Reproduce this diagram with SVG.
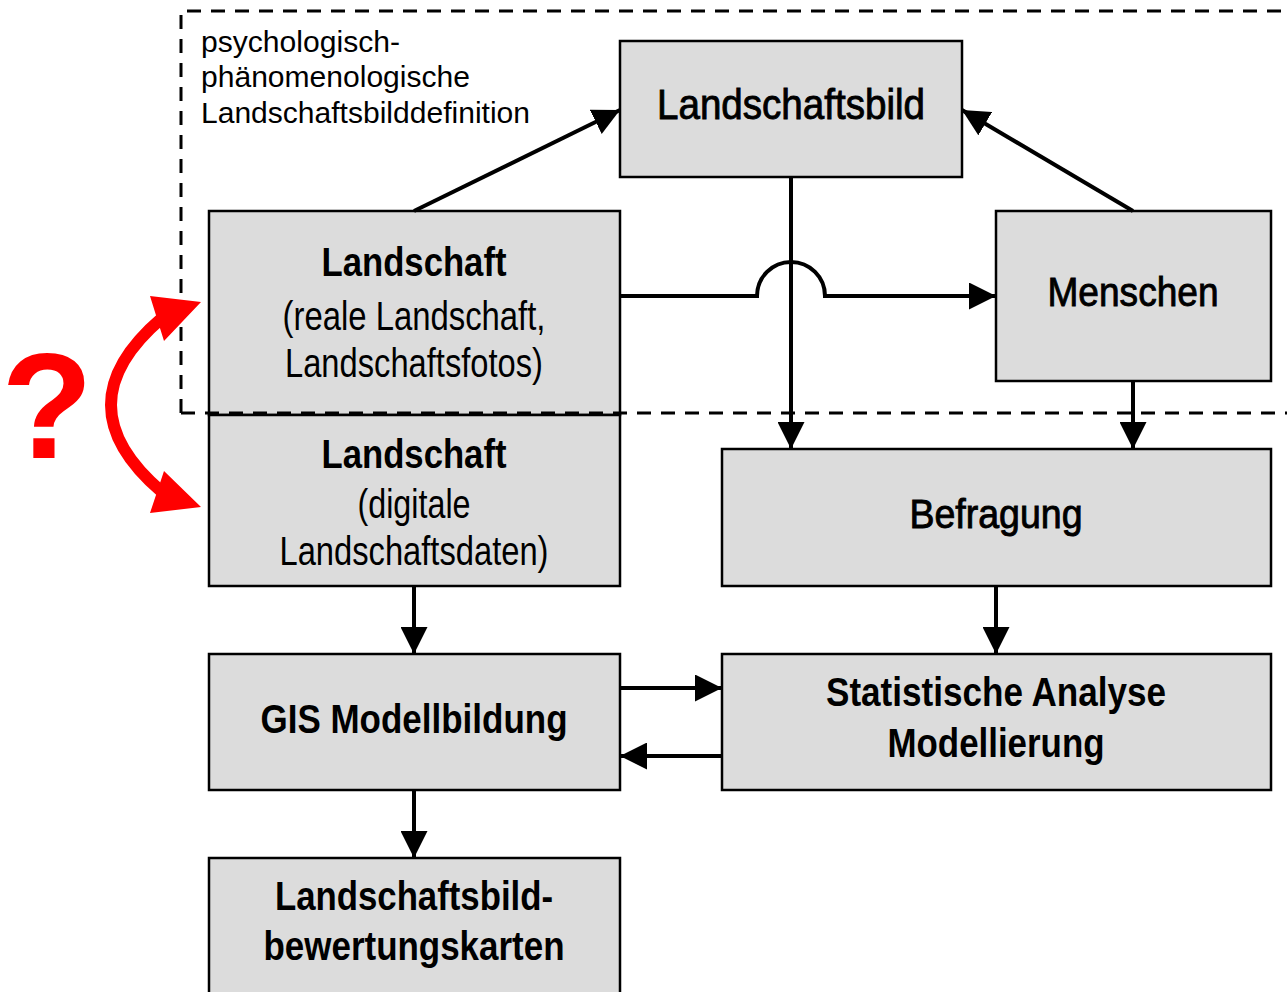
<svg xmlns="http://www.w3.org/2000/svg" width="1287" height="992" viewBox="0 0 1287 992">
<defs>
<marker id="ah" viewBox="0 0 10 10" refX="10" refY="5" markerWidth="27" markerHeight="27" markerUnits="userSpaceOnUse" orient="auto">
<path d="M0,0 L10,5 L0,10 Z" fill="#000"/>
</marker>
</defs>
<style>
.box{fill:#dcdcdc;stroke:#000;stroke-width:2.5}
.t{font-family:"Liberation Sans",Arial,sans-serif;text-anchor:middle;fill:#000}
.b{font-weight:bold;font-size:40px}
.m{font-weight:normal;stroke:#000;stroke-width:0.9}
.n{font-weight:normal;font-size:41px}
.c{fill:none;stroke:#000;stroke-width:4}
.lbl{font-family:"Liberation Sans",Arial,sans-serif;font-size:30px;fill:#000}
</style>
<rect width="1287" height="992" fill="#fff"/>
<g id="Landschaftsbild"><rect class="box" x="620" y="41" width="342" height="136"/><text class="t m" font-size="42" x="791" y="119" textLength="268" lengthAdjust="spacingAndGlyphs">Landschaftsbild</text></g>
<g id="Landschaft_real"><rect class="box" x="209" y="211" width="411" height="204"/><text class="t b" x="414" y="276" textLength="185" lengthAdjust="spacingAndGlyphs">Landschaft</text><text class="t n" x="414" y="330" textLength="263" lengthAdjust="spacingAndGlyphs">(reale Landschaft,</text><text class="t n" x="414" y="377" textLength="258" lengthAdjust="spacingAndGlyphs">Landschaftsfotos)</text></g>
<g id="Landschaft_digital"><rect class="box" x="209" y="415" width="411" height="171"/><text class="t b" x="414" y="468" textLength="185" lengthAdjust="spacingAndGlyphs">Landschaft</text><text class="t n" x="414" y="518" textLength="113" lengthAdjust="spacingAndGlyphs">(digitale</text><text class="t n" x="414" y="565" textLength="269" lengthAdjust="spacingAndGlyphs">Landschaftsdaten)</text></g>
<g id="Menschen"><rect class="box" x="996" y="211" width="275" height="170"/><text class="t m" font-size="41" x="1133" y="306" textLength="171" lengthAdjust="spacingAndGlyphs">Menschen</text></g>
<g id="Befragung"><rect class="box" x="722" y="449" width="549" height="137"/><text class="t m" font-size="40" x="996" y="528" textLength="173" lengthAdjust="spacingAndGlyphs">Befragung</text></g>
<g id="GIS"><rect class="box" x="209" y="654" width="411" height="136"/><text class="t b" x="414" y="733" textLength="307" lengthAdjust="spacingAndGlyphs">GIS Modellbildung</text></g>
<g id="Statistik"><rect class="box" x="722" y="654" width="549" height="136"/><text class="t b" x="996" y="706" textLength="340" lengthAdjust="spacingAndGlyphs">Statistische Analyse</text><text class="t b" x="996" y="757" textLength="217" lengthAdjust="spacingAndGlyphs">Modellierung</text></g>
<g id="Karten"><rect class="box" x="209" y="858" width="411" height="140"/><text class="t b" x="414" y="910" textLength="278" lengthAdjust="spacingAndGlyphs">Landschaftsbild-</text><text class="t b" x="414" y="960" textLength="301" lengthAdjust="spacingAndGlyphs">bewertungskarten</text></g>
<g id="Definition"><path d="M181,413 V11 H1287 M181,413 H1287" fill="none" stroke="#000" stroke-width="3" stroke-dasharray="14,10"/>
<text class="lbl" x="201" y="52" textLength="199" lengthAdjust="spacingAndGlyphs">psychologisch-</text><text class="lbl" x="201" y="87" textLength="269" lengthAdjust="spacingAndGlyphs">phänomenologische</text><text class="lbl" x="201" y="123" textLength="329" lengthAdjust="spacingAndGlyphs">Landschaftsbilddefinition</text></g>
<g id="connectors">
<path class="c" d="M414,211 L620,110" marker-end="url(#ah)"/>
<path class="c" d="M1133,211 L962,110" marker-end="url(#ah)"/>
<path class="c" d="M791,177 V449" marker-end="url(#ah)"/>
<path class="c" d="M620,296 H757 A34,34 0 0 1 825,296 H996" marker-end="url(#ah)"/>
<path class="c" d="M1133,381 V449" marker-end="url(#ah)"/>
<path class="c" d="M414,586 V654" marker-end="url(#ah)"/>
<path class="c" d="M996,586 V654" marker-end="url(#ah)"/>
<path class="c" d="M620,688 H722" marker-end="url(#ah)"/>
<path class="c" d="M722,756 H620" marker-end="url(#ah)"/>
<path class="c" d="M414,790 V858" marker-end="url(#ah)"/>
<path d="M162,318 Q60,405 162,492" fill="none" stroke="#ff0000" stroke-width="12"/>
<path d="M150,296 L201,302 L164,341 Z M150,513 L201,507 L164,471 Z" fill="#ff0000"/>
</g>
<text x="47" y="458" font-family="Liberation Sans,Arial,sans-serif" font-weight="bold" font-size="150" fill="#ff0000" text-anchor="middle">?</text>
</svg>
